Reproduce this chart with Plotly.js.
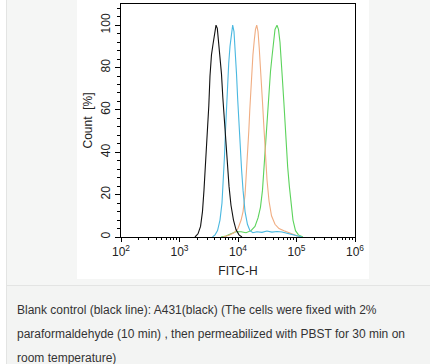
<!DOCTYPE html>
<html>
<head>
<meta charset="utf-8">
<script src="https://cdn.plot.ly/plotly-3.0.1.min.js"></script>
<style>
html,body{margin:0;padding:0;width:430px;height:364px;overflow:hidden;background:#fff;}
#wrap{position:absolute;left:6px;top:0;width:430px;height:364px;background:#f5f6f5;border-left:1px solid #e3e4e3;}
#chart{position:absolute;left:70px;top:0;width:292px;height:279px;background:#fff;}
#cap{position:absolute;left:0;top:285px;width:430px;height:79px;border-top:1px solid #e3e4e3;background:#f3f4f3;
 font-family:"Liberation Sans",Arial,sans-serif;font-size:12px;color:#333;line-height:24px;padding:12px 0 0 10px;box-sizing:border-box;}
</style>
</head>
<body>
<div id="wrap">
<div id="chart"></div>
<div id="cap">Blank control (black line): A431(black) (The cells were fixed with 2%<br>paraformaldehyde (10 min) , then permeabilized with PBST for 30 min on<br>room temperature)</div>
</div>
<script>
// FITC-H intensity (x) and Count [%] (y) per histogram
const blackX = [1840,2070,2290,2470,2620,2840,3010,3170,3320,3520,3740,3970,4210,4430,4640,4920,5220,5500,5770,6110,6490,7020,7590,8370,9240,10400,11700];
const blackY = [0,1.5,5,12,22,38,52,62,76,86,91,97,100,98.5,93,86,77,66,57,47,37,24,15,8,3.5,1,0];

const cyanX = [3660,4050,4470,4920,5320,5650,5870,6110,6360,6620,6940,7300,7740,8110,8540,9000,9430,9880,10300,10800,11500,12200,13200,14500,16000,18000,21100,25700,31300,38100,46400,56500,68800,83800,102000,124000];
const cyanY = [0,1,3,8,16,27,38,50,62,72,82,90,97,100,97,88,77,65,55,42,32,22,12,6,3,2,2.5,2.2,2.8,2.3,2.6,2.4,1.8,1.2,0.5,0];

const orangeX = [5550,7020,8540,10000,11300,12200,13200,14000,14700,15300,15900,16600,17200,18000,19000,19900,20900,22000,23100,24200,25200,26200,27300,28400,29500,31300,33900,37400,42900,50200,61100,74400,90600,115000];
const orangeY = [0,0.8,2,4,8,12,20,30,40,50,60,70,78,86,93,98,100,97,89,81,72,64,55,46,38,27,17,10,6,4,3,2,1,0];

const greenX = [5120,6240,7590,9240,11300,13700,16700,19500,22000,24200,26200,27800,29500,30900,32300,33900,35900,38100,40400,42900,46400,49200,52200,55000,57600,60700,63600,66900,70700,75400,80600,87100,96100,108000,129000];
const greenY = [0,0.5,1.5,2.5,2.5,2,3,5,9,14,22,33,44,54,63,71,78,85,93,98,100,98,92,84,74,64,53,43,33,24,16,8,3,1,0];

const xTickVals = [100,1000,10000,100000,1000000];
const xTickText = ['10<sup>2</sup>','10<sup>3</sup>','10<sup>4</sup>','10<sup>5</sup>','10<sup>6</sup>'];
const yTickVals = [0,20,40,60,80,100];

function tr(x,y,c){return {x:x,y:y,type:'scatter',mode:'lines',line:{color:c,width:1.1},hoverinfo:'skip'};}

const data = [
  tr(greenX,greenY,'#5cd35c'),
  tr(orangeX,orangeY,'#f0ad82'),
  tr(cyanX,cyanY,'#4ab8e0'),
  tr(blackX,blackY,'#111111')
];

const font = {family:'"Liberation Sans", Arial, sans-serif', size:12, color:'#222'};
const layout = {
  width:292, height:279,
  margin:{l:44,r:14,t:4,b:42},
  paper_bgcolor:'#fff', plot_bgcolor:'#fff',
  showlegend:false,
  font:font,
  xaxis:{type:'log', range:[2,6], tickvals:xTickVals, ticktext:xTickText,
    showgrid:false, zeroline:false, showline:true, linecolor:'#000', linewidth:1, mirror:true,
    ticks:'outside', ticklen:4, tickcolor:'#000', tickfont:font,
    minor:{dtick:'D1', ticks:'outside', ticklen:2, tickcolor:'#000', showgrid:false},
    title:{text:'FITC-H', font:font, standoff:8}},
  yaxis:{range:[0,110], tickvals:yTickVals, tickangle:-90,
    showgrid:false, zeroline:false, showline:true, linecolor:'#000', linewidth:1, mirror:true,
    ticks:'outside', ticklen:5, tickcolor:'#000', tickfont:{family:font.family,size:12,color:'#222'},
    minor:{dtick:4, ticks:'outside', ticklen:3, tickcolor:'#000', showgrid:false},
    title:{text:'Count  [%]', font:{family:font.family,size:12,color:'#222'}, standoff:4}}
};
Plotly.newPlot('chart', data, layout, {displayModeBar:false, staticPlot:true});
</script>
</body>
</html>
